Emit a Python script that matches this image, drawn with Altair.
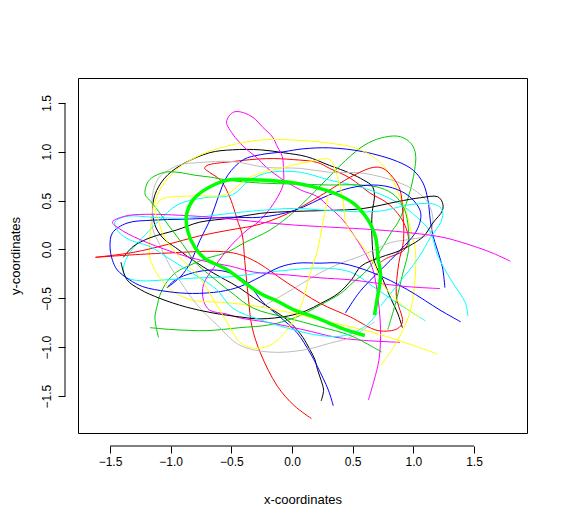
import altair as alt
import pandas as pd

# ---- curve data (x, y) ----
black_a = [(0.91,-0.80),(0.87,-0.65),(0.81,-0.49),(0.75,-0.31),(0.68,-0.13),(0.66,0.10),(0.66,0.37),(0.68,0.56),(0.66,0.65),(0.59,0.71),(0.48,0.78),(0.31,0.86),(0.12,0.95),(-0.07,0.99),(-0.26,1.02),(-0.49,1.02),(-0.68,0.99),(-0.92,0.86),(-1.05,0.73),(-1.13,0.56),(-1.15,0.38),(-1.12,0.22),(-1.05,0.10),(-0.96,0.02),(-0.84,-0.09),(-0.65,-0.24),(-0.45,-0.38),(-0.32,-0.49),(-0.18,-0.60),(-0.04,-0.72),(0.04,-0.82),(0.09,-0.90),(0.15,-1.03),(0.19,-1.13),(0.21,-1.23),(0.24,-1.34),(0.26,-1.44),(0.24,-1.55)]
black_b = [(-1.41,-0.13),(-1.36,-0.31),(-1.25,-0.41),(-1.09,-0.50),(-0.87,-0.59),(-0.65,-0.65),(-0.43,-0.69),(-0.26,-0.71),(-0.03,-0.68),(0.11,-0.63),(0.24,-0.55),(0.38,-0.45),(0.49,-0.31),(0.57,-0.17),(0.73,-0.08),(0.89,-0.01),(1.08,0.13),(1.16,0.27),(1.24,0.40),(1.24,0.48),(1.20,0.54),(1.06,0.53),(0.87,0.49),(0.59,0.42),(0.31,0.40),(0.02,0.39),(-0.26,0.37),(-0.51,0.32),(-0.76,0.28),(-0.95,0.20),(-1.17,0.12),(-1.31,0.03),(-1.39,-0.08)]
red_c = [(0.73,-0.13),(0.78,-0.09),(0.92,-0.01),(0.96,0.10),(0.93,0.25),(0.87,0.37),(0.78,0.48),(0.64,0.58),(0.48,0.73),(0.31,0.83),(0.21,0.89),(0.01,0.92),(-0.21,0.93),(-0.49,0.90),(-0.70,0.86),(-0.72,0.83),(-0.68,0.79),(-0.59,0.71),(-0.54,0.61),(-0.49,0.46),(-0.45,0.30),(-0.41,0.15),(-0.39,-0.11),(-0.36,-0.49),(-0.33,-0.79),(-0.26,-1.06),(-0.12,-1.40),(0.02,-1.60),(0.16,-1.73)]
red_d = [(-1.62,-0.08),(-1.31,-0.03),(-1.03,0.05),(-0.76,0.14),(-0.51,0.20),(-0.26,0.26),(0.02,0.40),(0.30,0.60),(0.48,0.74),(0.67,0.84),(0.75,0.83),(0.83,0.74),(0.89,0.61),(0.91,0.43),(0.92,0.10),(0.88,-0.14),(0.86,-0.48),(0.91,-0.74),(0.87,-0.81),(0.71,-0.83),(0.48,-0.69),(0.23,-0.55),(-0.04,-0.34),(-0.32,-0.11),(-0.51,-0.03),(-1.09,-0.04),(-1.62,-0.08)]
green_b = [(-1.10,-0.90),(-1.13,-0.70),(-1.11,-0.57),(-1.09,-0.47),(-1.03,-0.33),(-0.95,-0.23),(-0.84,-0.16),(-0.70,-0.09),(-0.54,-0.03),(-0.39,0.07),(-0.18,0.20),(0.02,0.39),(0.24,0.66),(0.44,0.91),(0.60,1.07),(0.73,1.14),(0.87,1.16),(0.95,1.12),(1.00,1.05),(1.02,0.95),(1.01,0.81),(0.99,0.68),(0.96,0.54),(0.92,0.40),(0.87,0.27),(0.82,0.18),(0.73,-0.01),(0.62,-0.21),(0.50,-0.34),(0.40,-0.45),(0.23,-0.57),(0.04,-0.69),(-0.18,-0.77),(-0.43,-0.80),(-0.70,-0.83),(-0.98,-0.82),(-1.17,-0.80)]
green_c = [(0.74,-1.05),(0.48,-0.88),(0.23,-0.79),(-0.04,-0.70),(-0.32,-0.60),(-0.51,-0.43),(-0.68,-0.26),(-0.80,-0.13),(-0.86,-0.02),(-0.94,0.12),(-1.02,0.25),(-1.10,0.39),(-1.17,0.50),(-1.21,0.56),(-1.20,0.66),(-1.16,0.73),(-1.05,0.79),(-0.94,0.79),(-0.80,0.76),(-0.67,0.74),(-0.53,0.71),(-0.26,0.68),(0.02,0.67),(0.30,0.66),(0.57,0.66),(0.73,0.63),(0.85,0.55),(0.93,0.40),(0.96,0.20),(0.96,-0.01),(0.91,-0.26),(0.86,-0.52),(0.79,-0.82)]
blue_1 = [(1.26,-0.39),(1.24,-0.18),(1.20,-0.01),(1.16,0.15),(1.14,0.30),(1.12,0.51),(1.08,0.68),(1.00,0.81),(0.87,0.90),(0.59,1.00),(0.31,1.04),(0.09,1.03),(-0.07,1.00),(-0.26,0.97),(-0.40,0.92),(-0.53,0.76),(-0.61,0.53),(-0.67,0.32),(-0.76,0.09),(-0.84,-0.14),(-0.92,-0.28),(-1.03,-0.39),(-0.96,-0.31),(-0.82,-0.24),(-0.65,-0.21),(-0.51,-0.24),(-0.37,-0.34),(-0.24,-0.54),(-0.10,-0.69),(0.04,-0.85),(0.15,-1.06),(0.21,-1.20),(0.30,-1.44),(0.34,-1.60)]
blue_2 = [(0.44,-0.65),(0.56,-0.43),(0.73,-0.21),(0.89,-0.01),(1.03,0.20),(1.06,0.38),(0.97,0.54),(0.83,0.63),(0.67,0.66),(0.48,0.63),(0.31,0.56),(0.02,0.40),(-0.26,0.33),(-0.51,0.33),(-0.68,0.32),(-0.90,0.31),(-1.15,0.30),(-1.36,0.27),(-1.48,0.17),(-1.50,0.03),(-1.48,-0.11),(-1.44,-0.21),(-1.34,-0.31),(-1.23,-0.38),(-1.03,-0.43),(-0.82,-0.45),(-0.59,-0.43),(-0.43,-0.38),(-0.26,-0.28),(-0.10,-0.18),(0.04,-0.14),(0.23,-0.14),(0.40,-0.14),(0.67,-0.24),(0.95,-0.41),(1.22,-0.62),(1.39,-0.74)]
cyan_1 = [(1.45,-0.68),(1.43,-0.55),(1.31,-0.31),(1.20,-0.06),(1.14,0.18),(1.03,0.33),(0.87,0.48),(0.59,0.63),(0.31,0.71),(0.07,0.79),(-0.18,0.79),(-0.35,0.71),(-0.49,0.56),(-0.72,0.53),(-0.94,0.46),(-1.10,0.29),(-1.21,0.15),(-1.33,-0.02),(-1.38,-0.14),(-1.39,-0.24),(-1.36,-0.29),(-1.25,-0.32),(-1.03,-0.31),(-0.76,-0.29),(-0.51,-0.28),(-0.26,-0.24),(-0.02,-0.21),(0.23,-0.19),(0.48,-0.23),(0.67,-0.38),(0.87,-0.55),(1.10,-0.73)]
cyan_2 = [(0.73,-0.58),(0.87,-0.36),(1.04,-0.09),(1.14,0.12),(1.23,0.29),(1.24,0.40),(1.18,0.46),(0.98,0.46),(0.71,0.39),(0.30,0.40),(0.02,0.42),(-0.26,0.40),(-0.51,0.37),(-0.87,0.32),(-1.15,0.33),(-1.36,0.34),(-1.46,0.28),(-1.43,0.18),(-1.34,0.10),(-1.17,0.03),(-1.03,-0.08),(-0.90,-0.18),(-0.76,-0.29),(-0.62,-0.41),(-0.49,-0.60),(-0.26,-0.72),(0.01,-0.82),(0.23,-0.88),(0.44,-0.88),(0.62,-0.77),(0.71,-0.64)]
magenta_a = [(1.80,-0.12),(1.66,-0.04),(1.53,0.02),(1.26,0.12),(0.98,0.17),(0.71,0.20),(0.30,0.23),(0.02,0.25),(-0.26,0.28),(-0.57,0.32),(-0.92,0.35),(-1.21,0.36),(-1.38,0.34),(-1.48,0.28),(-1.42,0.21),(-1.25,0.10),(-0.90,-0.06),(-0.68,-0.13),(-0.51,-0.17),(-0.32,-0.23),(-0.04,-0.26),(0.23,-0.29),(0.48,-0.31),(0.67,-0.34),(0.95,-0.38),(1.22,-0.40)]
magenta_b = [(0.63,-1.54),(0.70,-1.23),(0.72,-1.10),(0.73,-0.82),(0.70,-0.41),(0.66,-0.18),(0.59,-0.01),(0.48,0.20),(0.40,0.33),(0.31,0.43),(0.21,0.54),(0.07,0.61),(-0.07,0.71),(-0.21,0.84),(-0.29,0.94),(-0.37,1.02),(-0.45,1.12),(-0.51,1.22),(-0.54,1.30),(-0.51,1.38),(-0.47,1.41),(-0.40,1.40),(-0.32,1.35),(-0.24,1.25),(-0.16,1.15),(-0.12,1.05),(-0.08,0.95),(-0.07,0.81),(-0.07,0.68),(-0.10,0.58),(-0.18,0.42),(-0.28,0.28),(-0.37,0.20),(-0.51,0.03),(-0.63,-0.16),(-0.73,-0.36),(-0.73,-0.52),(-0.68,-0.62),(-0.54,-0.66),(-0.43,-0.70),(-0.18,-0.75),(0.09,-0.82),(0.37,-0.90),(0.59,-0.93),(0.89,-0.95)]
yellow_a = [(0.73,-1.19),(0.87,-0.93),(0.97,-0.65),(1.01,-0.37),(1.02,-0.09),(1.01,0.05),(0.98,0.19),(0.94,0.39),(0.87,0.60),(0.79,0.80),(0.68,0.94),(0.52,1.04),(0.30,1.09),(0.02,1.12),(-0.26,1.12),(-0.53,1.06),(-0.75,0.97),(-0.94,0.83),(-1.08,0.63),(-1.15,0.39),(-1.17,0.15),(-1.17,-0.09),(-1.15,-0.16),(-1.09,-0.29),(-0.98,-0.43),(-0.82,-0.52),(-0.59,-0.54),(-0.35,-0.57),(-0.04,-0.64),(0.23,-0.72),(0.48,-0.79),(0.67,-0.85),(0.95,-0.96),(1.20,-1.07)]
yellow_b = [(1.06,-0.70),(0.89,-0.55),(0.75,-0.36),(0.67,-0.13),(0.56,0.07),(0.45,0.25),(0.42,0.51),(0.37,0.76),(0.31,0.92),(0.15,0.90),(-0.07,0.84),(-0.35,0.74),(-0.55,0.56),(-0.80,0.55),(-1.08,0.51),(-1.13,0.40),(-1.10,0.29),(-1.05,0.12),(-0.94,-0.06),(-0.76,-0.29),(-0.62,-0.57),(-0.51,-0.80),(-0.43,-0.95),(-0.32,-1.01),(-0.18,-0.98),(-0.04,-0.82),(0.07,-0.59),(0.15,-0.24),(0.21,-0.01),(0.25,0.25),(0.30,0.56)]
gray_a = [(0.68,-0.74),(0.48,-0.90),(0.31,-0.96),(0.09,-1.03),(-0.18,-1.05),(-0.43,-0.98),(-0.62,-0.77),(-0.78,-0.57),(-0.92,-0.33),(-1.01,-0.16),(-1.09,0.05),(-1.15,0.22),(-1.15,0.39),(-1.15,0.56),(-1.10,0.73),(-0.94,0.86),(-0.76,0.89),(-0.49,0.90),(-0.21,0.84),(0.07,0.83),(0.31,0.79),(0.59,0.78),(0.87,0.69),(1.03,0.59),(1.12,0.48),(1.16,0.33),(1.15,0.20),(1.11,0.14),(0.95,0.10),(0.81,0.07),(0.67,-0.01),(0.54,-0.08),(0.40,-0.14),(0.23,-0.24),(0.04,-0.38),(-0.18,-0.54),(-0.25,-0.59)]
mean_curve = [(0.68,-0.67),(0.70,-0.52),(0.73,-0.26),(0.71,-0.09),(0.69,0.12),(0.65,0.25),(0.60,0.35),(0.52,0.46),(0.38,0.56),(0.21,0.63),(0.02,0.68),(-0.26,0.71),(-0.53,0.71),(-0.72,0.61),(-0.82,0.50),(-0.87,0.35),(-0.86,0.19),(-0.80,0.02),(-0.72,-0.09),(-0.53,-0.21),(-0.39,-0.34),(-0.26,-0.45),(-0.12,-0.53),(0.02,-0.62),(0.16,-0.68),(0.30,-0.75),(0.44,-0.82),(0.60,-0.88)]

curves = [
    ("black_a", "#000000", black_a), ("red_c", "#FF0000", red_c),
    ("green_b", "#00CD00", green_b), ("blue_1", "#0000FF", blue_1),
    ("cyan_1", "#00FFFF", cyan_1), ("magenta_b", "#FF00FF", magenta_b),
    ("yellow_a", "#FFFF00", yellow_a), ("gray_a", "#BEBEBE", gray_a),
    ("black_b", "#000000", black_b), ("red_d", "#FF0000", red_d),
    ("green_c", "#00CD00", green_c), ("blue_2", "#0000FF", blue_2),
    ("cyan_2", "#00FFFF", cyan_2), ("magenta_a", "#FF00FF", magenta_a),
    ("yellow_b", "#FFFF00", yellow_b),
]
tick_values = [-1.5, -1.0, -0.5, 0.0, 0.5, 1.0, 1.5]
x_domain = [-1.764, 1.937]
y_domain = [-1.878, 1.755]

rows = []
for k, (name, col, pts) in enumerate(curves):
    for i, (x, y) in enumerate(pts):
        rows.append({"curve": f"{k:02d}_{name}", "idx": i, "x": x, "y": y, "col": col})
df = pd.DataFrame(rows)
mean_df = pd.DataFrame([{"idx": i, "x": x, "y": y} for i, (x, y) in enumerate(mean_curve)])

FONT = "Liberation Sans"
xs = alt.Scale(domain=x_domain, nice=False, zero=False)
ys = alt.Scale(domain=y_domain, nice=False, zero=False)

x_axis = alt.Axis(values=tick_values, format=".1f", title="x-coordinates", domain=False, grid=False,
                  offset=13, tickSize=7, tickColor="black", labelColor="black", labelFont=FONT,
                  labelFontSize=12, labelPadding=3, titleFont=FONT, titleFontSize=13,
                  titleFontWeight="normal", titleColor="black", titlePadding=26)
y_axis = alt.Axis(values=tick_values, format=".1f", title="y-coordinates", domain=False, grid=False,
                  offset=13, tickSize=7, tickColor="black", labelColor="black", labelFont=FONT,
                  labelFontSize=12, labelAngle=270, labelAlign="center", labelBaseline="bottom",
                  labelPadding=5, titleFont=FONT, titleFontSize=13, titleFontWeight="normal",
                  titleColor="black", titlePadding=18)

thin = alt.Chart(df).mark_line(strokeWidth=1, interpolate="catmull-rom").encode(
    x=alt.X("x:Q", scale=xs, axis=x_axis),
    y=alt.Y("y:Q", scale=ys, axis=y_axis),
    detail="curve:N",
    order=alt.Order("idx:Q"),
    color=alt.Color("col:N", scale=None),
)
thick = alt.Chart(mean_df).mark_line(strokeWidth=3.5, color="#00FF00", interpolate="catmull-rom").encode(
    x=alt.X("x:Q", scale=xs), y=alt.Y("y:Q", scale=ys), order=alt.Order("idx:Q"))

axis_df = pd.DataFrame({"a": [tick_values[0]], "b": [tick_values[-1]]})
xline = alt.Chart(axis_df).mark_rule(color="black", strokeWidth=1).encode(
    x=alt.X("a:Q", scale=xs), x2="b:Q", y=alt.value(368))
yline = alt.Chart(axis_df).mark_rule(color="black", strokeWidth=1).encode(
    y=alt.Y("a:Q", scale=ys), y2="b:Q", x=alt.value(-13))

chart = alt.layer(thin, thick, xline, yline).properties(
    width=449, height=355,
    autosize=alt.AutoSizeParams(type="none"),
    padding={"left": 70, "top": 70, "right": 33, "bottom": 90},
    background="white",
).configure_view(stroke="black", strokeWidth=1)

chart.save("out.html", embed_options={"renderer": "svg", "actions": False})
